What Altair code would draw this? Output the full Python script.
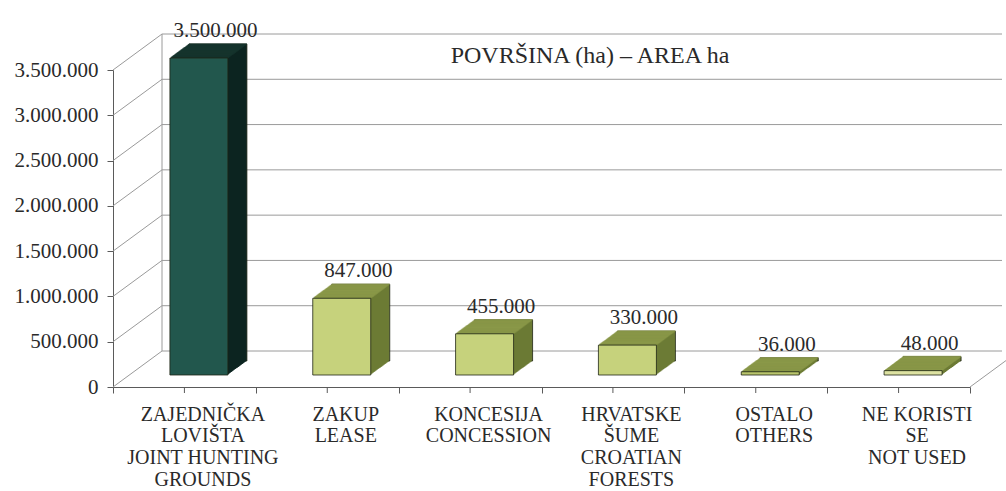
import altair as alt
import pandas as pd

# ---------------- data ----------------
categories = [
    "ZAJEDNIČKA\nLOVIŠTA\nJOINT HUNTING\nGROUNDS",
    "ZAKUP\nLEASE",
    "KONCESIJA\nCONCESSION",
    "HRVATSKE\nŠUME\nCROATIAN\nFORESTS",
    "OSTALO\nOTHERS",
    "NE KORISTI\nSE\nNOT USED",
]
areas = [3500000, 847000, 455000, 330000, 36000, 48000]
y_ticks = [0, 500000, 1000000, 1500000, 2000000, 2500000, 3000000, 3500000]
title_text = ["POVRŠINA (ha) – AREA ha"]

# ---------------- style ----------------
front_colors = ["#22574d", "#c6d27c", "#c6d27c", "#c6d27c", "#b9c56c", "#dde2a2"]
side_colors = ["#0d2521", "#6c7b35", "#6c7b35", "#6c7b35", "#6c7b35", "#6c7b35"]
top_colors = ["#17362f", "#8d9b4a", "#8d9b4a", "#8d9b4a", "#8d9b4a", "#8d9b4a"]

FONT = "Liberation Serif"
TXT = "#2a2a2a"
GRID = "#9a9a9a"
AXIS = "#5a5a5a"

W, H = 857, 317
WALL_DX, WALL_DY = 49, -36
BAR_X, BAR_Y = 14.5, -12
DEPTH_X, DEPTH_Y = 19, -14
BAR_W = 58
STEPS = 19

df = pd.DataFrame({"cat": categories, "area": areas})
ticks_df = pd.DataFrame({"v": y_ticks})
title_df = pd.DataFrame({"t": title_text})

yscale = alt.Scale(domain=[0, 3500000], nice=False, zero=True)
xscale = alt.Scale(domain=categories, paddingInner=0, paddingOuter=0)

x_axis = alt.Axis(
    labelAngle=0,
    labelExpr="split(datum.label, '\\n')",
    labelFont=FONT,
    labelFontSize=20,
    labelLineHeight=21.7,
    labelColor=TXT,
    labelPadding=11,
    labelOffset=18,
    labelLimit=0,
    tickBand="extent",
    tickSize=6,
    tickColor=AXIS,
    domainColor=AXIS,
    grid=False,
    title=None,
)
y_axis = alt.Axis(
    values=y_ticks,
    labelExpr="replace(format(datum.value, ','), /,/g, '.')",
    labelFont=FONT,
    labelFontSize=21,
    labelColor=TXT,
    labelPadding=9,
    tickSize=6,
    tickColor=AXIS,
    domainColor=AXIS,
    grid=False,
    title=None,
)


def xenc():
    return alt.X("cat:N", sort=categories, scale=xscale, axis=x_axis, title=None)


def yenc(field="area:Q"):
    return alt.Y(field, scale=yscale, axis=y_axis, title=None)


def colorenc(rng):
    return alt.Color("cat:N", scale=alt.Scale(domain=categories, range=rng), legend=None)


layers = []

# back wall horizontal grid lines
layers.append(
    alt.Chart(ticks_df).mark_rule(color=GRID, strokeWidth=1, yOffset=WALL_DY).encode(
        y=yenc("v:Q"), x=alt.value(WALL_DX), x2=alt.value(W + 32)
    )
)
# left wall diagonals
layers.append(
    alt.Chart(ticks_df).mark_rule(color=GRID, strokeWidth=1, y2Offset=WALL_DY).encode(
        y=yenc("v:Q"), y2="v:Q", x=alt.value(0), x2=alt.value(WALL_DX)
    )
)
# back wall left edge
layers.append(
    alt.Chart(ticks_df).mark_rule(color=GRID, strokeWidth=1, yOffset=WALL_DY, y2Offset=WALL_DY).encode(
        y=alt.Y("min(v):Q", scale=yscale, axis=y_axis, title=None),
        y2="max(v):Q",
        x=alt.value(WALL_DX),
    )
)
# right floor diagonal
layers.append(
    alt.Chart(ticks_df).transform_filter("datum.v == 0").mark_rule(
        color=GRID, strokeWidth=1, y2Offset=WALL_DY * 36 / 49
    ).encode(y=yenc("v:Q"), y2="v:Q", x=alt.value(W), x2=alt.value(W + 36))
)

# 3D extrusion, from back to front
base = alt.Chart(df)
for k in range(STEPS, 0, -1):
    ox = BAR_X + DEPTH_X * k / STEPS
    oy = BAR_Y + DEPTH_Y * k / STEPS
    extra = {}
    if k == STEPS:
        extra = {"stroke": "#1e2414", "strokeWidth": 0.8}
    layers.append(
        base.mark_bar(size=BAR_W, xOffset=ox, yOffset=oy, y2Offset=oy, **extra).encode(
            x=xenc(), y=yenc(), color=colorenc(side_colors)
        )
    )
    layers.append(
        base.mark_tick(size=BAR_W, thickness=1.6, xOffset=ox, yOffset=oy).encode(
            x=xenc(), y=yenc(), color=colorenc(top_colors)
        )
    )

# front faces
layers.append(
    base.mark_bar(
        size=BAR_W, xOffset=BAR_X, yOffset=BAR_Y, y2Offset=BAR_Y, stroke="#1e2414", strokeWidth=0.8
    ).encode(x=xenc(), y=yenc(), color=colorenc(front_colors))
)

# centre ticks on x axis
layers.append(
    base.mark_rule(color=AXIS, strokeWidth=1).encode(
        x=xenc(), y=alt.value(H), y2=alt.value(H + 6)
    )
)

# value labels
layers.append(
    base.transform_calculate(
        label="replace(format(datum.area, ','), /,/g, '.')"
    ).mark_text(
        dx=31, dy=-33, baseline="alphabetic", font=FONT, fontSize=21, color=TXT
    ).encode(x=xenc(), y=yenc(), text="label:N")
)

# chart caption on the back wall
layers.append(
    alt.Chart(title_df).mark_text(
        baseline="alphabetic", align="center", font=FONT, fontSize=24, color=TXT
    ).encode(x=alt.value(477), y=alt.value(-7), text="t:N")
)

chart = (
    alt.layer(*layers)
    .resolve_scale(color="independent")
    .properties(
        width=W,
        height=H,
        padding={"left": 113, "top": 70, "right": 36, "bottom": 104},
        autosize=alt.AutoSizeParams(type="none"),
        background="white",
    )
    .configure_view(strokeWidth=0)
)

chart.save("out.html", embed_options={"renderer": "svg", "actions": False})
